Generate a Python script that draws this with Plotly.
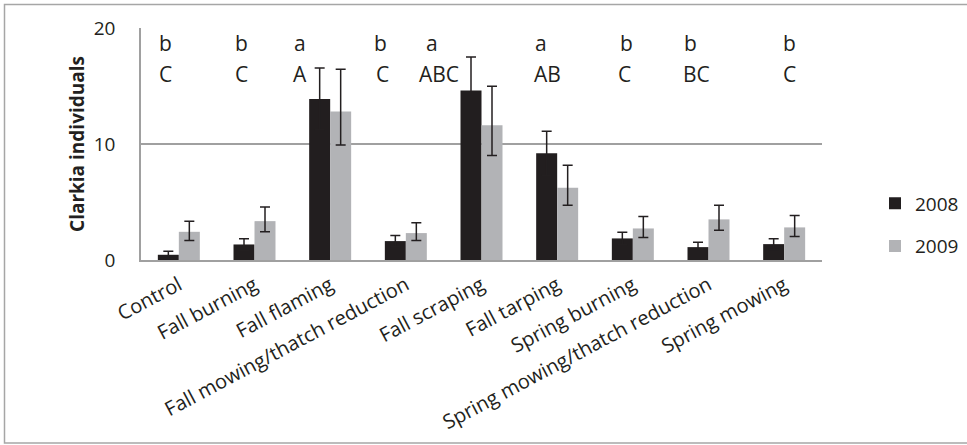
import plotly.graph_objects as go

categories = ["Control", "Fall burning", "Fall flaming", "Fall mowing/thatch reduction",
              "Fall scraping", "Fall tarping", "Spring burning",
              "Spring mowing/thatch reduction", "Spring mowing"]
mean_2008 = [0.45, 1.34, 13.89, 1.63, 14.61, 9.20, 1.86, 1.11, 1.37]
err_2008 = [0.31, 0.49, 2.67, 0.49, 2.88, 1.90, 0.54, 0.43, 0.46]
mean_2009 = [2.43, 3.35, 12.80, 2.32, 11.61, 6.23, 2.72, 3.50, 2.81]
err_2009_plus = [0.92, 1.21, 3.65, 0.90, 3.37, 1.93, 1.04, 1.23, 1.03]
err_2009_minus = [0.75, 0.92, 2.89, 0.63, 2.61, 1.52, 0.78, 0.93, 0.78]
letters_year = ["b", "b", "a", "b", "a", "a", "b", "b", "b"]
letters_treat = ["C", "C", "A", "C", "ABC", "AB", "C", "BC", "C"]
y_ticks = [0, 10, 20]

# layout constants (pixels)
W, H = 967, 445
L, R, T, B = 141, 822, 28, 260
shift_top = [-13, -13.5, -30, -25, -50, -16, -6, -18, 5.5]
shift_bot = [-13, -13.5, -30, -23, -43, -10, -8, -12, 5.5]

TXT = "#231f20"
GRID = "#a0a0a0"
FONT = "Open Sans"

fig = go.Figure()
fig.add_trace(go.Bar(
    x=categories, y=mean_2008, name="2008",
    marker=dict(color="#221e1f", line=dict(width=0)),
    error_y=dict(type="data", array=err_2008, color=TXT, thickness=1.5, width=5),
    legendgroup="a",
))
fig.add_trace(go.Bar(
    x=categories, y=mean_2009, name="2009",
    marker=dict(color="#b2b3b6", line=dict(width=0)),
    error_y=dict(type="data", symmetric=False, array=err_2009_plus,
                 arrayminus=err_2009_minus, color=TXT, thickness=1.5, width=5),
    legendgroup="b",
))

annotations = []
for i, cat in enumerate(categories):
    annotations.append(dict(x=i, y=18.72, xref="x", yref="y", text=letters_year[i],
                            showarrow=False, xshift=shift_top[i], yanchor="middle",
                            font=dict(family=FONT, size=21, color=TXT)))
    annotations.append(dict(x=i, y=16.02, xref="x", yref="y", text=letters_treat[i],
                            showarrow=False, xshift=shift_bot[i], yanchor="middle",
                            font=dict(family=FONT, size=21, color=TXT)))

pw, ph = R - L, B - T
def px(xp):
    return (xp - L) / pw
def py(yp):
    return (B - yp) / ph

fig.update_layout(
    width=W, height=H,
    margin=dict(l=L, r=W - R, t=T, b=H - B, autoexpand=False),
    paper_bgcolor="white", plot_bgcolor="white",
    barmode="group", bargap=0.445, bargroupgap=0,
    font=dict(family=FONT, size=19, color=TXT),
    showlegend=True,
    legend=dict(x=px(875), y=py(225), xanchor="left", yanchor="middle",
                font=dict(family=FONT, size=19, color=TXT),
                traceorder="grouped", tracegroupgap=15, bgcolor="rgba(0,0,0,0)"),
    annotations=annotations,
    shapes=[dict(type="rect", xref="paper", yref="paper",
                 x0=px(4.5), x1=px(975), y0=py(443), y1=py(4.5),
                 line=dict(color="#a6a6a6", width=1.5), layer="below")],
)
fig.update_xaxes(
    type="category", showline=True, linecolor=GRID, linewidth=1.5,
    showgrid=False, ticks="", tickangle=-28, ticklabelstandoff=4,
    tickfont=dict(family=FONT, size=20, color=TXT), automargin=False,
)
fig.update_yaxes(
    range=[0, 20], tickvals=y_ticks, showgrid=True, gridcolor=GRID, gridwidth=1.5,
    showline=True, linecolor=GRID, linewidth=1.5, zeroline=False, ticks="",
    ticklabelstandoff=20, automargin=False,
    tickfont=dict(family=FONT, size=19, color=TXT),
    title=dict(text="<b>Clarkia individuals</b>", standoff=4,
               font=dict(family=FONT, size=19, color=TXT)),
)
fig.write_html("out.html")
